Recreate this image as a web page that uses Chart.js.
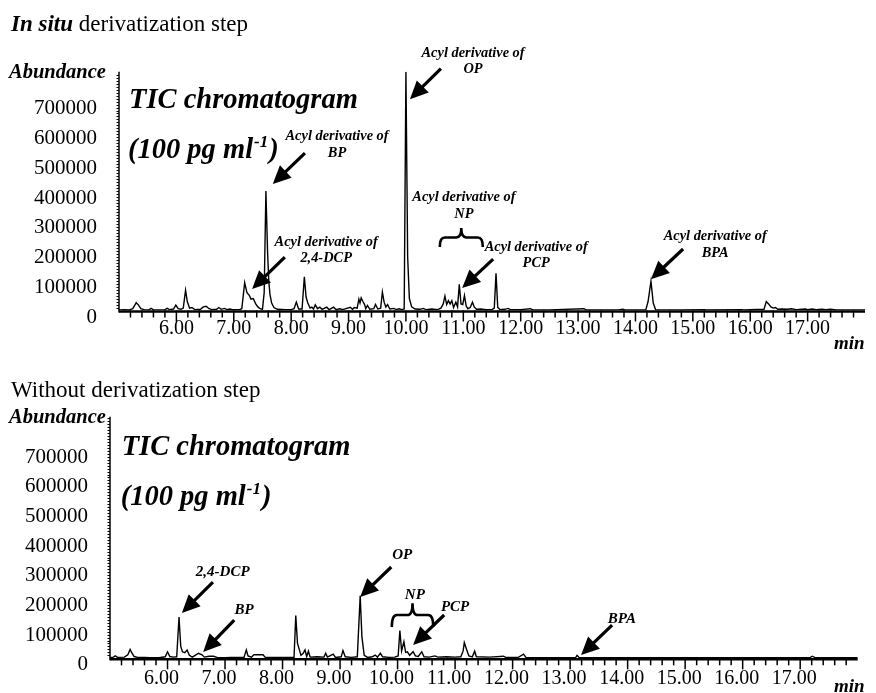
<!DOCTYPE html>
<html>
<head>
<meta charset="utf-8">
<script src="https://cdn.jsdelivr.net/npm/chart.js@4.4.1/dist/chart.umd.min.js"></script>
<style>
    html, body { margin: 0; padding: 0; background: #fff; }
    canvas { position: absolute; left: 0; }
</style>
</head>
<body>
<canvas id="insitu-chart" width="876" height="352" style="top:0"></canvas>
<canvas id="without-chart" width="876" height="341" style="top:352px"></canvas>
<script>
// retention time (min) and abundance
const insituTime = [
    5.00, 5.10, 5.18, 5.24, 5.30, 5.34, 5.38, 5.44, 5.52, 5.56, 5.60, 5.80, 5.84, 5.88, 5.95, 5.99,
    6.03, 6.08, 6.12, 6.16, 6.19, 6.23, 6.27, 6.32, 6.42, 6.47, 6.52, 6.57, 6.62, 6.70, 6.74, 6.78,
    6.84, 6.88, 6.93, 6.98, 7.10, 7.14, 7.19, 7.23, 7.27, 7.30, 7.34, 7.38, 7.42, 7.46, 7.50, 7.53,
    7.56, 7.59, 7.61, 7.63, 7.66, 7.70, 7.76, 7.90, 8.00, 8.05, 8.09, 8.13, 8.19, 8.23, 8.26, 8.29,
    8.33, 8.36, 8.39, 8.42, 8.46, 8.50, 8.54, 8.62, 8.66, 8.74, 8.78, 8.85, 8.90, 9.03, 9.07, 9.10,
    9.15, 9.18, 9.20, 9.22, 9.25, 9.28, 9.30, 9.33, 9.37, 9.44, 9.47, 9.51, 9.56, 9.59, 9.62, 9.65,
    9.68, 9.72, 9.79, 9.83, 9.88, 9.93, 9.97, 10.00, 10.03, 10.06, 10.10, 10.16, 10.25, 10.30, 10.35, 10.45,
    10.55, 10.61, 10.65, 10.68, 10.71, 10.74, 10.77, 10.80, 10.83, 10.87, 10.90, 10.93, 10.96, 10.99, 11.02, 11.05,
    11.08, 11.12, 11.16, 11.19, 11.23, 11.30, 11.40, 11.50, 11.54, 11.57, 11.60, 11.64, 11.72, 11.78, 11.82, 12.00,
    12.17, 12.21, 12.50, 13.10, 13.14, 13.70, 13.78, 13.82, 14.18, 14.22, 14.27, 14.31, 14.35, 14.80, 15.20, 15.24,
    15.85, 15.88, 16.24, 16.28, 16.32, 16.36, 16.40, 16.44, 16.48, 16.55, 16.65, 16.72, 16.80, 16.96, 17.00, 17.08,
    17.15, 17.25, 17.32, 17.40, 17.50, 18.00
];
const insituAbundance = [
    2000, 3000, 2000, 6000, 26000, 18000, 6000, 3000, 2000, 7000, 2000, 3000, 7000, 3000, 5000, 18000,
    6000, 4000, 8000, 68000, 30000, 8000, 10000, 3000, 4000, 12000, 14000, 6000, 3000, 4000, 10000, 4000,
    7000, 3000, 5000, 3000, 3000, 6000, 93000, 60000, 51000, 38000, 40000, 23000, 12000, 6000, 4000, 60000,
    400000, 190000, 100000, 55000, 25000, 10000, 4000, 3000, 3000, 6000, 28000, 5000, 5000, 113000, 45000, 25000,
    8000, 11000, 5000, 19000, 6000, 11000, 4000, 11000, 3000, 11000, 3000, 6000, 3000, 11000, 4000, 10000,
    8000, 38000, 25000, 42000, 30000, 20000, 6000, 17000, 4000, 6000, 20000, 5000, 8000, 62000, 28000, 12000,
    20000, 5000, 7000, 3000, 6000, 3000, 5000, 800000, 180000, 40000, 12000, 5000, 4000, 7000, 3000, 5000,
    3000, 8000, 22000, 48000, 20000, 33000, 22000, 33000, 10000, 28000, 12000, 88000, 22000, 20000, 50000, 15000,
    6000, 10000, 28000, 12000, 4000, 5000, 3000, 3000, 8000, 125000, 10000, 3000, 4000, 7000, 3000, 3000,
    6000, 2000, 2000, 6000, 2000, 2000, 4000, 2000, 2000, 30000, 98000, 25000, 3000, 2000, 3000, 2000,
    3000, 2000, 4000, 30000, 22000, 12000, 8000, 10000, 4000, 5000, 4000, 6000, 3000, 5000, 3000, 5000,
    3000, 4000, 3000, 4000, 2000, 2000
];

const withoutTime = [
    5.00, 5.06, 5.09, 5.13, 5.25, 5.31, 5.35, 5.38, 5.42, 5.48, 5.60, 5.70, 5.85, 5.96, 6.00, 6.04,
    6.10, 6.16, 6.20, 6.23, 6.26, 6.30, 6.34, 6.38, 6.43, 6.48, 6.54, 6.60, 6.64, 6.72, 6.80, 6.86,
    7.00, 7.10, 7.33, 7.37, 7.40, 7.46, 7.50, 7.58, 7.66, 7.70, 8.00, 8.20, 8.23, 8.26, 8.29, 8.32,
    8.36, 8.39, 8.42, 8.45, 8.48, 8.60, 8.72, 8.75, 8.78, 8.88, 8.92, 9.02, 9.05, 9.09, 9.20, 9.30,
    9.35, 9.38, 9.42, 9.48, 9.56, 9.61, 9.65, 9.70, 9.74, 9.85, 9.95, 10.01, 10.04, 10.07, 10.11, 10.14,
    10.17, 10.21, 10.27, 10.31, 10.36, 10.42, 10.46, 10.55, 10.65, 10.70, 10.85, 11.00, 11.10, 11.14, 11.16, 11.20,
    11.24, 11.30, 11.34, 11.37, 11.60, 11.84, 11.88, 12.10, 12.19, 12.23, 12.40, 13.10, 13.12, 13.16, 14.00, 15.35,
    17.18, 17.21, 17.25, 18.00
];
const withoutAbundance = [
    2000, 4000, 8000, 3000, 4000, 12000, 30000, 18000, 6000, 3000, 3000, 2000, 2000, 5000, 22000, 6000,
    4000, 5000, 139000, 40000, 22000, 19000, 28000, 10000, 4000, 10000, 17000, 12000, 4000, 7000, 7000, 3000,
    2000, 3000, 3000, 28000, 8000, 4000, 12000, 12000, 12000, 3000, 3000, 3000, 144000, 50000, 30000, 10000,
    17000, 28000, 6000, 24000, 4000, 5000, 4000, 17000, 4000, 14000, 3000, 5000, 26000, 5000, 3000, 5000,
    211000, 72000, 10000, 3000, 5000, 11000, 4000, 17000, 5000, 3000, 4000, 8000, 94000, 25000, 56000, 20000,
    22000, 10000, 22000, 8000, 6000, 22000, 5000, 4000, 8000, 4000, 5000, 4000, 5000, 25000, 53000, 30000,
    8000, 5000, 24000, 5000, 4000, 7000, 3000, 3000, 14000, 3000, 2000, 3000, 10000, 2000, 2000, 2000,
    3000, 7000, 3000, 2000
];

const xMajorTicks = [6, 7, 8, 9, 10, 11, 12, 13, 14, 15, 16, 17];
const xTickLabels = ['6.00', '7.00', '8.00', '9.00', '10.00', '11.00', '12.00', '13.00', '14.00', '15.00', '16.00', '17.00'];
const yTickValues = [0, 100000, 200000, 300000, 400000, 500000, 600000, 700000];
const yTickLabels = ['0', '100000', '200000', '300000', '400000', '500000', '600000', '700000'];

// peak labels: text anchor, arrow start and arrow tip, all in (min, abundance)
const insituNotes = [
    { lines: ['Acyl derivative of', 'OP'], at: [11.17, 862000], from: [10.61, 810000], to: [10.07, 708000] },
    { lines: ['Acyl derivative of', 'BP'], at: [8.80, 582000], from: [8.24, 527000], to: [7.68, 424000] },
    { lines: ['Acyl derivative of', '2,4-DCP'], at: [8.61, 230000], from: [7.89, 179000], to: [7.32, 72000] },
    { lines: ['Acyl derivative of', 'NP'], at: [11.01, 379000], brace: [10.59, 11.34, 276000, 213000] },
    { lines: ['Acyl derivative of', 'PCP'], at: [12.27, 212000], from: [11.52, 172000], to: [10.98, 75000] },
    { lines: ['Acyl derivative of', 'BPA'], at: [15.39, 247000], from: [14.83, 206000], to: [14.27, 105000] }
];
const withoutNotes = [
    { lines: ['2,4-DCP'], at: [6.96, 292000], from: [6.79, 257000], to: [6.25, 153000] },
    { lines: ['BP'], at: [7.33, 163000], from: [7.16, 129000], to: [6.62, 21000] },
    { lines: ['OP'], at: [10.08, 348000], from: [9.89, 308000], to: [9.35, 207000] },
    { lines: ['NP'], at: [10.30, 213000], brace: [9.90, 10.62, 186000, 106000] },
    { lines: ['PCP'], at: [11.00, 174000], from: [10.81, 146000], to: [10.27, 45000] },
    { lines: ['BPA'], at: [13.90, 131000], from: [13.73, 112000], to: [13.19, 11000] }
];

const SERIF = '"Liberation Serif", "Times New Roman", serif';

function drawArrow(ctx, x0, y0, x1, y1) {
    const ang = Math.atan2(y1 - y0, x1 - x0);
    const headLen = 18, headW = 8.5;
    const bx = x1 - headLen * Math.cos(ang), by = y1 - headLen * Math.sin(ang);
    ctx.lineWidth = 3.2;
    ctx.beginPath();
    ctx.moveTo(x0, y0);
    ctx.lineTo(bx + 2 * Math.cos(ang), by + 2 * Math.sin(ang));
    ctx.stroke();
    ctx.beginPath();
    ctx.moveTo(x1, y1);
    ctx.lineTo(bx + headW * Math.sin(ang), by - headW * Math.cos(ang));
    ctx.lineTo(bx - headW * Math.sin(ang), by + headW * Math.cos(ang));
    ctx.closePath();
    ctx.fill();
}

function drawBrace(ctx, xl, xr, yTip, yEnd) {
    const xc = (xl + xr) / 2, ym = (yTip + yEnd) / 2;
    const r = 5;
    ctx.lineWidth = 2.6;
    ctx.beginPath();
    ctx.moveTo(xl, yEnd);
    ctx.quadraticCurveTo(xl, ym, xl + r, ym);
    ctx.lineTo(xc - r, ym);
    ctx.quadraticCurveTo(xc, ym, xc, yTip);
    ctx.quadraticCurveTo(xc, ym, xc + r, ym);
    ctx.lineTo(xr - r, ym);
    ctx.quadraticCurveTo(xr, ym, xr, yEnd);
    ctx.stroke();
}

const chromPlugin = {
    id: 'chrom',
    afterDraw(chart) {
        const { ctx, chartArea, scales: { x, y } } = chart;
        const o = chart.options.plugins.chrom;
        const y0 = y.getPixelForValue(0);
        ctx.save();
        ctx.strokeStyle = '#000';
        ctx.fillStyle = '#000';

        // axes
        ctx.lineWidth = 2.4;
        ctx.beginPath();
        ctx.moveTo(chartArea.left, y0 + 1);
        ctx.lineTo(chartArea.right, y0 + 1);
        ctx.stroke();
        ctx.lineWidth = 1.5;
        ctx.beginPath();
        ctx.moveTo(chartArea.left, chartArea.top);
        ctx.lineTo(chartArea.left, y0 + 2);
        ctx.stroke();

        // x ticks, every 0.2 min, longer at whole minutes
        ctx.lineWidth = 1.5;
        for (let i = 26; i <= 89; i++) {
            const px = x.getPixelForValue(i / 5);
            const len = i % 5 === 0 ? 9 : 5;
            ctx.beginPath();
            ctx.moveTo(px, y0);
            ctx.lineTo(px, y0 + 2 + len);
            ctx.stroke();
        }
        // y ticks, dotted look along the axis
        ctx.lineWidth = 1;
        for (let v = 10000; v < y.max; v += 10000) {
            const py = Math.round(y.getPixelForValue(v)) + 0.5;
            ctx.beginPath();
            ctx.moveTo(chartArea.left - 2.5, py);
            ctx.lineTo(chartArea.left, py);
            ctx.stroke();
        }

        // title row
        ctx.textBaseline = 'alphabetic';
        ctx.textAlign = 'left';
        let tx = 11;
        if (o.titleBold) {
            ctx.font = 'bold italic 23px ' + SERIF;
            ctx.fillText(o.titleBold, tx, o.titleY);
            tx += ctx.measureText(o.titleBold).width;
        }
        ctx.font = '23px ' + SERIF;
        ctx.fillText(o.title, tx, o.titleY);

        ctx.font = 'bold italic 20.5px ' + SERIF;
        ctx.fillText('Abundance', 9, o.abundanceY);

        // TIC chromatogram (100 pg ml-1)
        ctx.font = 'bold italic 28.5px ' + SERIF;
        ctx.fillText('TIC chromatogram', chartArea.left + o.ticDx, chartArea.top + o.ticDy);
        let sx = chartArea.left + o.ticDx - 1;
        const sy = chartArea.top + o.ticDy + 50;
        ctx.fillText('(100 pg ml', sx, sy);
        sx += ctx.measureText('(100 pg ml').width + 1;
        ctx.font = 'bold italic 17px ' + SERIF;
        ctx.fillText('-1', sx, sy - 11);
        sx += ctx.measureText('-1').width + 1;
        ctx.font = 'bold italic 28.5px ' + SERIF;
        ctx.fillText(')', sx, sy);

        ctx.font = 'bold italic 19px ' + SERIF;
        ctx.fillText('min', 834, o.minY);

        // peak labels
        ctx.textAlign = 'center';
        ctx.textBaseline = 'middle';
        o.notes.forEach(n => {
            const ax = x.getPixelForValue(n.at[0]);
            const ay = y.getPixelForValue(n.at[1]);
            ctx.font = 'bold italic ' + o.noteSize + 'px ' + SERIF;
            n.lines.forEach((line, i) => ctx.fillText(line, ax, ay + i * 16.5));
            if (n.from) {
                drawArrow(ctx, x.getPixelForValue(n.from[0]), y.getPixelForValue(n.from[1]),
                    x.getPixelForValue(n.to[0]), y.getPixelForValue(n.to[1]));
            }
            if (n.brace) {
                drawBrace(ctx, x.getPixelForValue(n.brace[0]), x.getPixelForValue(n.brace[1]),
                    y.getPixelForValue(n.brace[2]), y.getPixelForValue(n.brace[3]));
            }
        });
        ctx.restore();
    }
};

function makeChart(id, times, values, opts) {
    const points = times.map((t, i) => ({ x: t, y: values[i] }));
    return new Chart(document.getElementById(id), {
        type: 'line',
        data: {
            datasets: [{
                data: points,
                borderColor: '#000',
                borderWidth: 1.4,
                pointRadius: 0,
                tension: 0,
                fill: false
            }]
        },
        options: {
            responsive: false,
            devicePixelRatio: 1,
            animation: false,
            layout: { padding: { left: 0, top: opts.top, right: opts.right, bottom: 0 } },
            plugins: {
                legend: { display: false },
                tooltip: { enabled: false },
                chrom: opts
            },
            scales: {
                x: {
                    type: 'linear',
                    min: 5,
                    max: 18,
                    grid: { display: false, drawTicks: false },
                    border: { display: false },
                    afterBuildTicks: scale => { scale.ticks = xMajorTicks.map(v => ({ value: v })); },
                    afterFit: scale => { scale.height = opts.xHeight; },
                    ticks: {
                        autoSkip: false,
                        maxRotation: 0,
                        padding: opts.xPad,
                        labelOffset: opts.xLabelOffset,
                        color: '#000',
                        font: { family: SERIF, size: 20 },
                        callback: v => xTickLabels[xMajorTicks.indexOf(v)] || ''
                    }
                },
                y: {
                    min: 0,
                    max: opts.yMax,
                    grid: { display: false, drawTicks: false },
                    border: { display: false },
                    afterBuildTicks: scale => { scale.ticks = yTickValues.map(v => ({ value: v })); },
                    afterFit: scale => { scale.width = opts.left; },
                    ticks: {
                        padding: 22,
                        labelOffset: opts.yLabelOffset,
                        color: '#000',
                        font: { family: SERIF, size: 21 },
                        callback: v => yTickLabels[yTickValues.indexOf(v)]
                    }
                }
            }
        },
        plugins: [chromPlugin]
    });
}

makeChart('insitu-chart', insituTime, insituAbundance, {
    top: 71.7, right: 11, left: 119, xHeight: 41.5, xPad: 6.5, xLabelOffset: 0, yMax: 800000, yLabelOffset: 7,
    titleBold: 'In situ', title: ' derivatization step', titleY: 31, abundanceY: 78, minY: 349,
    ticDx: 10, ticDy: 36.5, noteSize: 14.4, notes: insituNotes
});

makeChart('without-chart', withoutTime, withoutAbundance, {
    top: 64.7, right: 18.3, left: 110, xHeight: 34.7, xPad: 8.5, xLabelOffset: -6, yMax: 815000, yLabelOffset: 6.5,
    titleBold: '', title: 'Without derivatization step', titleY: 44.7, abundanceY: 71.3, minY: 340,
    ticDx: 11.7, ticDy: 38.3, noteSize: 15, notes: withoutNotes
});
</script>
</body>
</html>
